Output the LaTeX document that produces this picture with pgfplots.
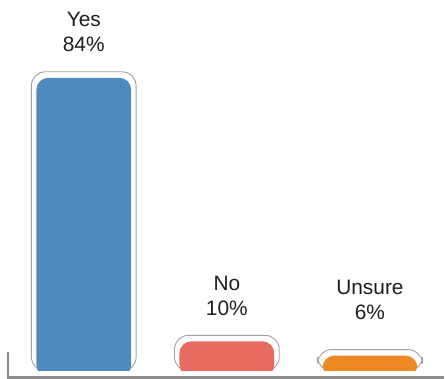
\documentclass[border=0pt]{standalone}
\usepackage{pgfplots}
\pgfplotsset{compat=1.18}
\usepackage{fontspec}
\setmainfont{Liberation Sans}
\definecolor{cblue}{RGB}{78,138,192}
\definecolor{cred}{RGB}{232,107,95}
\definecolor{corange}{RGB}{238,138,36}
\definecolor{cline}{RGB}{160,160,160}
\definecolor{cbase}{RGB}{140,140,140}
\definecolor{ctext}{RGB}{30,30,30}
\pgfplotsset{
  outl/.style={ybar, bar shift=0pt, bar width=105bp, fill=white, draw=cline, line width=0.9bp, rounded corners=14bp,
    point meta=explicit symbolic, nodes near coords={\pgfplotspointmeta},
    every node near coord/.append style={anchor=south, inner sep=0pt, align=center, text=ctext,
      font=\fontsize{21}{25}\selectfont, yshift=#1}},
  innr/.style={ybar, bar shift=0pt, bar width=95bp, fill=#1, draw=none, rounded corners=12bp, yshift=-6bp},
}
\begin{document}
\begin{tikzpicture}
\begin{axis}[name=ax, scale only axis, width=445bp, height=372bp,
  xmin=-0.5854, xmax=2.5157, ymin=0, ymax=104.16,
  hide axis,
  y coord trafo/.code={\pgfmathparse{#1+10}},
  y coord inv trafo/.code={\pgfmathparse{#1-10}},
]
\addplot[outl=19.5bp] coordinates {(0,84) [{Yes\\84\%}]};
\addplot[innr=cblue] coordinates {(0,84)};
\addplot[outl=19.5bp] coordinates {(1,10) [{No\\10\%}]};
\addplot[innr=cred] coordinates {(1,10)};
\addplot[outl=29.5bp] coordinates {(2,6) [{Unsure\\6\%}]};
\addplot[innr=corange] coordinates {(2,6)};
\end{axis}
\draw[cbase, line width=2.5bp] ([shift={(8bp,19bp)}]ax.south west) |- ([yshift=-6.7bp]ax.south east);
\path ([yshift=-8bp]ax.south west) rectangle (ax.north east);
\end{tikzpicture}
\end{document}
